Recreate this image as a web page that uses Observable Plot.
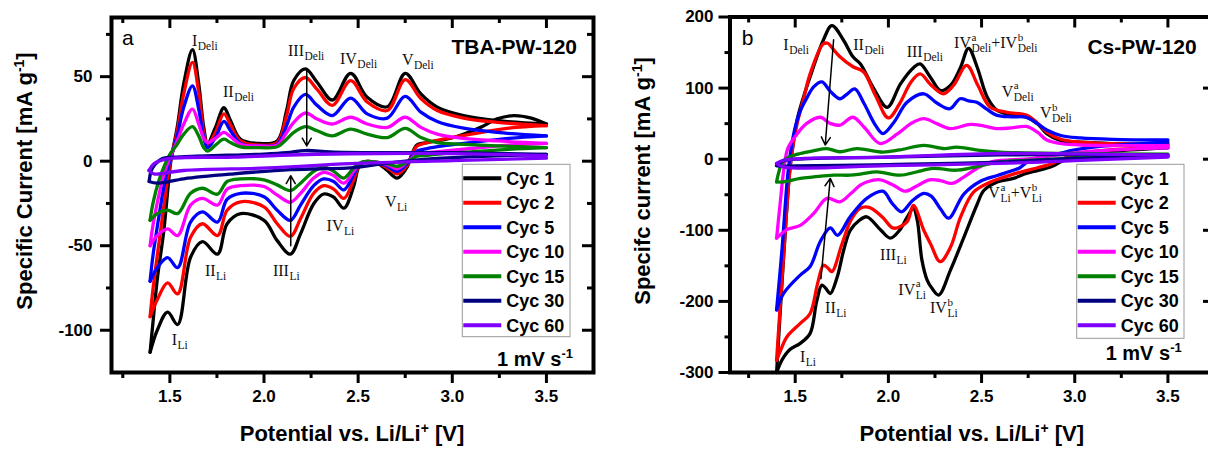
<!DOCTYPE html>
<html><head><meta charset="utf-8">
<script src="https://cdn.jsdelivr.net/npm/d3@7"></script>
<script src="https://cdn.jsdelivr.net/npm/@observablehq/plot@0.6"></script>
<style>
html,body{margin:0;padding:0;background:#fff;overflow:hidden;}
#wrap{position:relative;width:1208px;height:450px;overflow:hidden;background:#fff;}
#pa,#pb{position:absolute;top:0;height:450px;}
#pa{left:0;width:604px;} #pb{left:618px;width:620px;}
#wrap svg{max-width:none !important;}
</style></head><body><div id="wrap"><div id="pa"></div><div id="pb"></div></div>
<script>
// ---------- shared ----------
const cycles = ["Cyc 1","Cyc 2","Cyc 5","Cyc 10","Cyc 15","Cyc 30","Cyc 60"];
const colors = ["#000000","#ff0000","#0000ff","#ff00ff","#008000","#000080","#7f00ff"];

// ---------- panel a: TBA-PW-120  [potential V, current mA/g] ----------
const a_c1_an = [[1.395,-113],[1.408,-98],[1.433,-70],[1.468,-41],[1.494,-11],[1.505,0],[1.539,20],[1.574,46],[1.62,66],[1.653,46],[1.68,20],[1.70,10.5],[1.742,20],[1.787,31.6],[1.822,24],[1.875,13],[1.98,10.5],[2.07,12],[2.12,30],[2.158,47.7],[2.22,54.6],[2.282,46.7],[2.363,36.2],[2.46,52],[2.548,37.8],[2.655,32.2],[2.75,52],[2.833,39.8],[2.92,32],[3.06,27],[3.238,24],[3.5,22]];
const a_c1_ca = [[3.5,22],[3.42,25.5],[3.326,27],[3.238,25],[3.15,20],[3.008,14],[2.866,11],[2.813,9.7],[2.786,4.4],[2.76,-3.5],[2.707,-10],[2.655,-5.5],[2.6,-1.2],[2.53,-0.6],[2.503,-3.5],[2.476,-15],[2.424,-27.8],[2.37,-21.3],[2.317,-19.4],[2.264,-25.2],[2.194,-43],[2.14,-55],[2.07,-47],[2.0,-35],[1.876,-31],[1.804,-37],[1.753,-55],[1.673,-47.6],[1.61,-56.8],[1.541,-96.6],[1.488,-89.3],[1.433,-100],[1.395,-113]];
const a_c2_an = [[1.395,-92],[1.41,-76],[1.44,-50],[1.47,-25],[1.5,-2],[1.539,18],[1.574,40],[1.62,58.4],[1.653,41],[1.68,17],[1.70,9.5],[1.742,17],[1.787,28],[1.822,21.5],[1.875,12],[1.98,9.5],[2.07,11],[2.12,27],[2.158,43],[2.22,49.5],[2.282,42.5],[2.363,33],[2.46,47.6],[2.548,35],[2.655,30],[2.75,48.2],[2.833,37],[2.92,30],[3.06,25.5],[3.238,23],[3.5,21]];
const a_c2_ca = [[3.5,21],[3.3,19.5],[3.1,16],[2.95,13],[2.866,11],[2.813,9],[2.786,4],[2.76,-2.5],[2.707,-7.5],[2.655,-4],[2.6,-1],[2.53,-0.5],[2.503,-3],[2.476,-11],[2.424,-22],[2.37,-16.5],[2.317,-14.5],[2.264,-19],[2.194,-34],[2.14,-44.5],[2.07,-37],[2.0,-27],[1.876,-24],[1.804,-29],[1.753,-44],[1.673,-37],[1.61,-45],[1.541,-78.5],[1.488,-72],[1.433,-82],[1.395,-92]];
const a_c5_an = [[1.395,-71],[1.41,-56],[1.44,-34],[1.47,-14],[1.5,0],[1.539,15],[1.574,32],[1.62,44.6],[1.653,31],[1.68,14],[1.70,8],[1.742,14],[1.787,23.5],[1.822,18],[1.875,10.5],[1.98,9],[2.07,10],[2.12,21],[2.158,32],[2.22,39.5],[2.282,33],[2.363,27],[2.46,37.3],[2.548,28],[2.655,25.5],[2.75,38.3],[2.833,29],[2.92,23.5],[3.06,19.5],[3.238,17],[3.5,15]];
const a_c5_ca = [[3.5,15],[3.3,13.5],[3.1,11],[2.95,9],[2.866,7.5],[2.813,6],[2.786,3],[2.76,-1.5],[2.707,-6],[2.655,-3],[2.6,-0.8],[2.53,-0.5],[2.503,-2.5],[2.476,-8],[2.424,-17],[2.37,-12],[2.317,-10.5],[2.264,-14.5],[2.194,-26],[2.14,-35],[2.07,-29],[2.0,-21],[1.876,-19],[1.804,-22.5],[1.753,-36],[1.673,-30],[1.61,-36],[1.541,-63],[1.488,-57],[1.433,-63],[1.395,-71]];
const a_c10_an = [[1.395,-50],[1.41,-38],[1.44,-21],[1.47,-7],[1.5,2],[1.539,12],[1.574,22],[1.62,30.8],[1.653,22],[1.68,13.5],[1.70,11],[1.742,13.5],[1.787,17],[1.822,14.5],[1.875,10],[1.98,9],[2.07,9.5],[2.12,17],[2.158,23],[2.22,28.5],[2.282,25],[2.363,22],[2.46,26],[2.548,22],[2.655,20],[2.75,26],[2.833,20],[2.92,16],[3.06,13.5],[3.238,12],[3.5,10.5]];
const a_c10_ca = [[3.5,10.5],[3.3,9.5],[3.1,7.5],[2.95,6],[2.866,5],[2.813,4],[2.786,2],[2.76,-0.5],[2.707,-4.5],[2.655,-2],[2.6,-0.5],[2.53,-0.3],[2.503,-2],[2.476,-6],[2.424,-13],[2.37,-8.5],[2.317,-6.6],[2.264,-10],[2.194,-19],[2.14,-24.3],[2.07,-20],[2.0,-15],[1.876,-14.5],[1.804,-16.5],[1.753,-26],[1.673,-22],[1.61,-26],[1.541,-44],[1.488,-40],[1.433,-44],[1.395,-50]];
const a_c15_an = [[1.395,-35],[1.41,-25],[1.44,-12],[1.47,-3],[1.5,4],[1.539,10],[1.574,16],[1.62,20.4],[1.653,15],[1.68,8],[1.70,6],[1.742,9.5],[1.787,13],[1.822,11],[1.875,8.5],[1.98,8],[2.07,8.5],[2.12,13],[2.158,17],[2.22,20.4],[2.282,18],[2.363,15],[2.46,19],[2.548,16],[2.655,14],[2.75,19.4],[2.833,14],[2.92,11],[3.06,10],[3.238,9],[3.5,8]];
const a_c15_ca = [[3.5,8],[3.3,7],[3.1,5.5],[2.95,4.5],[2.866,3.5],[2.813,3],[2.786,1.5],[2.76,-0.5],[2.707,-3],[2.655,-1.5],[2.6,-0.5],[2.53,-0.3],[2.503,-1.5],[2.476,-4],[2.424,-10],[2.37,-6],[2.317,-3.5],[2.264,-6],[2.194,-13],[2.14,-17.4],[2.07,-14],[2.0,-11],[1.876,-10.5],[1.804,-12],[1.753,-19.5],[1.673,-16],[1.61,-19],[1.541,-31],[1.488,-29],[1.433,-31],[1.395,-35]];
const a_c30_an = [[1.39,-12],[1.40,-6],[1.42,-2],[1.46,1.5],[1.55,2.5],[1.8,3.5],[2.0,4.2],[2.12,5],[2.22,6.3],[2.35,5.5],[2.6,5],[3.0,5],[3.5,4]];
const a_c30_ca = [[3.5,4],[3.2,3],[2.9,1.5],[2.7,-0.5],[2.46,-4],[2.3,-4.5],[2.14,-5],[1.84,-7.5],[1.574,-10.4],[1.433,-13],[1.39,-12]];
const a_c60_an = [[1.389,-5.5],[1.415,-1.5],[1.486,1.4],[1.84,2.4],[2.09,3.5],[2.46,4.4],[3.0,4.5],[3.5,3.3]];
const a_c60_ca = [[3.5,1.8],[3.0,0.3],[2.46,-1.5],[2.02,-4],[1.574,-5.5],[1.415,-7.5],[1.389,-5.5]];

// ---------- panel b: Cs-PW-120 ----------
const b_c1_an = [[1.4,-300],[1.43,-170],[1.466,-30],[1.48,5],[1.51,55],[1.545,88],[1.58,116],[1.65,167],[1.697,188],[1.76,167],[1.81,144],[1.85,134],[1.92,100],[1.994,73],[2.065,106],[2.136,129],[2.17,134],[2.226,115],[2.28,96.6],[2.333,103.7],[2.387,129],[2.43,156],[2.477,129],[2.53,87.5],[2.584,68.5],[2.635,64],[2.74,59],[2.8,50],[2.85,36],[2.925,26],[3.03,24],[3.2,22],[3.5,21]];
const b_c1_ca = [[3.5,16],[3.3,13],[3.1,9],[3.0,4],[2.93,-3],[2.88,-10],[2.8,-16],[2.74,-20],[2.67,-27],[2.584,-32],[2.512,-44],[2.477,-63],[2.405,-110],[2.333,-156],[2.27,-191],[2.235,-182],[2.208,-170],[2.18,-142],[2.155,-86],[2.134,-69],[2.1,-82],[2.06,-100],[2.01,-111],[1.96,-100],[1.884,-81],[1.84,-87],[1.795,-100],[1.76,-128],[1.725,-166],[1.688,-189],[1.665,-182],[1.643,-177],[1.615,-200],[1.58,-245],[1.527,-259],[1.47,-268],[1.43,-282],[1.4,-300]];
const b_c2_an = [[1.4,-283],[1.43,-165],[1.466,-30],[1.48,5],[1.51,50],[1.545,85],[1.58,120],[1.65,162],[1.675,163],[1.7,156],[1.74,144],[1.81,130],[1.866,123],[1.93,90],[2.0,58],[2.06,78],[2.12,108],[2.17,120],[2.23,104],[2.295,92],[2.35,104],[2.42,132],[2.48,104],[2.545,73.5],[2.635,66],[2.74,62],[2.8,51],[2.85,38],[2.925,28],[3.03,24],[3.2,22],[3.5,20]];
const b_c2_ca = [[3.5,18],[3.3,15],[3.1,11],[3.0,6],[2.93,0],[2.88,-6],[2.8,-12],[2.74,-16],[2.67,-21],[2.6,-27],[2.548,-32],[2.458,-46],[2.387,-81.6],[2.333,-124],[2.278,-144],[2.226,-119],[2.19,-100],[2.134,-65],[2.1,-88],[2.027,-97],[1.97,-82],[1.9,-68],[1.849,-69],[1.8,-85],[1.75,-120],[1.697,-158],[1.675,-153],[1.652,-149],[1.62,-175],[1.58,-217],[1.527,-231],[1.455,-250],[1.42,-270],[1.4,-283]];
const b_c5_an = [[1.4,-212],[1.43,-124],[1.457,-30],[1.475,10],[1.5,45],[1.528,68.5],[1.564,87],[1.6,102],[1.643,108.6],[1.69,95],[1.74,85],[1.78,92],[1.82,99],[1.87,78],[1.93,48],[1.97,36],[2.03,52],[2.1,80],[2.19,92],[2.26,79],[2.33,71],[2.385,85],[2.43,82],[2.474,80],[2.53,70],[2.58,62],[2.66,59.5],[2.74,59],[2.8,50],[2.85,41],[2.93,33],[3.03,30],[3.2,28],[3.5,27]];
const b_c5_ca = [[3.5,24],[3.3,21],[3.1,17],[3.0,13],[2.9,7],[2.8,1],[2.745,-4],[2.706,-12],[2.67,-15.5],[2.584,-23],[2.494,-31],[2.405,-49],[2.323,-83],[2.28,-70],[2.23,-52],[2.19,-48],[2.13,-58],[2.07,-74],[2.02,-62],[1.97,-45],[1.884,-55],[1.795,-81],[1.727,-107],[1.688,-96.5],[1.634,-116],[1.58,-151],[1.527,-163],[1.437,-189],[1.4,-212]];
const b_c10_an = [[1.4,-111],[1.42,-60],[1.44,-12],[1.46,15],[1.5,32],[1.56,50],[1.634,59],[1.69,50],[1.74,48],[1.81,59],[1.87,45],[1.956,22],[2.05,36],[2.12,50],[2.19,57],[2.26,50],[2.33,43],[2.44,49],[2.51,47],[2.58,43],[2.66,44],[2.74,46],[2.8,38],[2.85,27],[2.93,22],[3.03,20],[3.5,19]];
const b_c10_ca = [[3.5,16],[3.2,13],[3.0,9],[2.85,4],[2.75,0.5],[2.65,-1],[2.55,-4],[2.474,-13],[2.4,-26],[2.34,-34],[2.28,-30],[2.22,-29],[2.15,-38],[2.09,-45],[2.03,-37],[1.956,-29],[1.884,-32],[1.849,-36.5],[1.8,-48],[1.74,-60],[1.67,-55],[1.6,-76],[1.527,-93],[1.455,-99],[1.4,-111]];
const b_c15_an = [[1.4,-32],[1.41,-20],[1.43,-5],[1.46,2],[1.527,8],[1.6,12],[1.67,15],[1.74,10.5],[1.83,15],[1.97,10],[2.06,13],[2.19,19.5],[2.3,15],[2.367,17],[2.49,12.5],[2.6,10],[3.0,8],[3.5,7]];
const b_c15_ca = [[3.5,5],[3.0,2],[2.8,-1],[2.6,-3.8],[2.45,-12],[2.367,-15.5],[2.24,-13],[2.15,-18],[2.063,-22.5],[1.938,-17.8],[1.85,-21],[1.795,-22.5],[1.706,-22.5],[1.6,-25],[1.527,-27],[1.437,-32],[1.4,-32]];
const b_c30_an = [[1.4,-9],[1.43,-3],[1.5,0],[2.0,3],[2.6,6],[3.0,6.5],[3.5,6]];
const b_c30_ca = [[3.5,4],[3.0,1],[2.6,-4],[2.0,-7.5],[1.5,-9.5],[1.43,-10],[1.4,-9]];
const b_c60_an = [[1.4,-6],[1.44,-1.4],[2.0,3],[2.6,8],[3.0,7.5],[3.5,5.6]];
const b_c60_ca = [[3.5,3],[3.0,-2],[2.6,-6],[2.0,-9],[1.44,-11],[1.4,-6]];

// ---------- ticks ----------
const xMajor = [1.5, 2.0, 2.5, 3.0, 3.5];
const xMinor = [1.25, 1.75, 2.25, 2.75, 3.25];
const yMajorA = [-100, -50, 0, 50];
const yMinorA = [-75, -25, 25, 75];
const yMajorB = [-300, -200, -100, 0, 100, 200];
const yMinorB = [-250, -150, -50, 50, 150];

// ---------- arrows & peak labels ----------
const arrowsA = [{x1:2.227,y1:54,x2:2.227,y2:9},{x1:2.142,y1:-50,x2:2.142,y2:-8.6}];
const arrowsB = [{x1:1.706,y1:168,x2:1.661,y2:20},{x1:1.638,y1:-168,x2:1.688,y2:-27}];
const labelsA = [
 {E:1.62,I:67.6,parts:[{t:"I",sub:"Deli"}]},
 {E:1.785,I:37.7,parts:[{t:"II",sub:"Deli"}]},
 {E:2.13,I:61.7,parts:[{t:"III",sub:"Deli"}]},
 {E:2.406,I:57.2,parts:[{t:"IV",sub:"Deli"}]},
 {E:2.735,I:56.6,parts:[{t:"V",sub:"Deli"}]},
 {E:1.512,I:-109.3,parts:[{t:"I",sub:"Li"}]},
 {E:1.689,I:-68.2,parts:[{t:"II",sub:"Li"}]},
 {E:2.05,I:-68.2,parts:[{t:"III",sub:"Li"}]},
 {E:2.335,I:-41.6,parts:[{t:"IV",sub:"Li"}]},
 {E:2.645,I:-27.1,parts:[{t:"V",sub:"Li"}]}
];
const labelsB = [
 {E:1.439,I:152.9,parts:[{t:"I",sub:"Deli"}]},
 {E:1.814,I:152.9,parts:[{t:"II",sub:"Deli"}]},
 {E:2.101,I:143.7,parts:[{t:"III",sub:"Deli"}]},
 {E:2.355,I:155.3,parts:[{t:"IV",sup:"a",sub:"Deli"},{t:"+IV",sup:"b",sub:"Deli"}]},
 {E:2.611,I:87.2,parts:[{t:"V",sup:"a",sub:"Deli"}]},
 {E:2.816,I:56.8,parts:[{t:"V",sup:"b",sub:"Deli"}]},
 {E:2.539,I:-55.7,parts:[{t:"V",sup:"a",sub:"Li"},{t:"+V",sup:"b",sub:"Li"}]},
 {E:1.958,I:-142.5,parts:[{t:"III",sub:"Li"}]},
 {E:2.056,I:-191.7,parts:[{t:"IV",sup:"a",sub:"Li"}]},
 {E:2.226,I:-217.4,parts:[{t:"IV",sup:"b",sub:"Li"}]},
 {E:1.663,I:-217.4,parts:[{t:"II",sub:"Li"}]},
 {E:1.528,I:-285.5,parts:[{t:"I",sub:"Li"}]}
];

const SANS = "'Liberation Sans', Arial, Helvetica, sans-serif";
const SERIF = "'Liberation Serif', 'Times New Roman', serif";

function buildRows(series) {
  const rows = [];
  series.forEach(([an, ca], k) => {
    an.forEach(([E, I]) => rows.push({E, I, k, z: k + "an", c: colors[k]}));
    ca.forEach(([E, I]) => rows.push({E, I, k, z: k + "ca", c: colors[k]}));
  });
  return rows;
}

function supText(sel, parts, supSize) {
  let shifted = false;
  parts.forEach(p => {
    if (typeof p === "string") {
      const t = sel.append("tspan").text(p);
      if (shifted) { t.attr("dy", 8); shifted = false; }
    } else {
      sel.append("tspan").attr("dy", -8).attr("font-size", supSize).text(p.sup);
      shifted = true;
    }
  });
}

function panel(o) {
  const H = 450;
  const FH = H - o.mt - o.mb, FW = o.width - o.ml - o.mr;
  const rows = buildRows(o.series);
  const chart = Plot.plot({
    width: o.width, height: H,
    marginLeft: o.ml, marginRight: o.mr, marginTop: o.mt, marginBottom: o.mb,
    x: {domain: o.xDomain, axis: null},
    y: {domain: o.yDomain, axis: null},
    style: {fontFamily: SANS, background: "white", color: "black", overflow: "visible", maxWidth: "none"},
    marks: [
      Plot.line(rows, {x: "E", y: "I", z: "z", stroke: "c", strokeWidth: 3.3, curve: "catmull-rom", strokeLinejoin: "round"}),
      Plot.arrow(o.arrows, {x1: "x1", y1: "y1", x2: "x2", y2: "y2", stroke: "black", strokeWidth: 1.5, headLength: 9}),
      Plot.tickX(xMajor, {x: d => d, insetTop: FH - 11, dy: 11, stroke: "black", strokeWidth: 3}),
      Plot.tickX(xMinor, {x: d => d, insetTop: FH - 6, dy: 6, stroke: "black", strokeWidth: 3}),
      Plot.tickX(xMajor, {x: d => d, insetBottom: FH - 11, stroke: "black", strokeWidth: 3}),
      Plot.tickX(xMinor, {x: d => d, insetBottom: FH - 6, stroke: "black", strokeWidth: 3}),
      Plot.tickY(o.yMajor, {y: d => d, insetRight: FW - 11, dx: -11, stroke: "black", strokeWidth: 3}),
      Plot.tickY(o.yMinor, {y: d => d, insetRight: FW - 5, dx: -5, stroke: "black", strokeWidth: 3}),
      Plot.tickY(o.yMajor, {y: d => d, insetLeft: FW - 11, stroke: "black", strokeWidth: 3}),
      Plot.tickY(o.yMinor, {y: d => d, insetLeft: FW - 6, stroke: "black", strokeWidth: 3}),
      Plot.frame({stroke: "black", strokeWidth: 4}),
      Plot.text(xMajor, {x: d => d, frameAnchor: "bottom", dy: 29, text: d => d.toFixed(1), fontSize: 17, fontWeight: "bold", fill: "black"}),
      Plot.text(o.yMajor, {y: d => d, frameAnchor: "left", dx: o.yLabelPad, textAnchor: "end", text: d => String(d), fontSize: 17, fontWeight: "bold", fill: "black"})
    ]
  });
  document.getElementById(o.el).appendChild(chart);
  const svg = d3.select(chart);
  const sx = chart.scale("x"), sy = chart.scale("y");
  const ov = svg.append("g").attr("text-anchor", "start").attr("font-family", SANS).attr("fill", "black");

  // axis titles
  const xt = ov.append("text").attr("x", o.ml + FW / 2).attr("y", 441)
    .attr("text-anchor", "middle").attr("font-size", 22).attr("font-weight", "bold");
  supText(xt, ["Potential vs. Li/Li", {sup: "+"}, " [V]"], 14);
  const yt = ov.append("text").attr("transform", `translate(${o.yTitleX},181) rotate(-90)`)
    .attr("text-anchor", "middle").attr("font-size", 22).attr("font-weight", "bold");
  supText(yt, [o.yTitle, {sup: "-1"}, "]"], 14);

  ov.append("text").attr("x", o.letterX).attr("y", 45).attr("font-size", 21).text(o.letter);
  ov.append("text").attr("x", o.nameX).attr("y", 54).attr("text-anchor", "end")
    .attr("font-size", 21).attr("font-weight", "bold").text(o.name);
  const sr = ov.append("text").attr("x", o.rateX).attr("y", o.rateY).attr("text-anchor", "end")
    .attr("font-size", 20).attr("font-weight", "bold");
  supText(sr, ["1 mV s", {sup: "-1"}], 13);

  // legend
  const lg = ov.append("g");
  lg.append("rect").attr("x", o.leg.x).attr("y", o.leg.y).attr("width", o.leg.w).attr("height", o.leg.h)
    .attr("fill", "white").attr("stroke", "#9a9a9a").attr("stroke-width", 1);
  cycles.forEach((c, i) => {
    const yy = o.leg.y + 14 + i * 24.5;
    lg.append("line").attr("x1", o.leg.x + 1).attr("x2", o.leg.x + 39).attr("y1", yy).attr("y2", yy)
      .attr("stroke", colors[i]).attr("stroke-width", 4);
    lg.append("text").attr("x", o.leg.x + 44).attr("y", yy + 6.3).attr("font-size", 18)
      .attr("font-weight", "bold").text(c);
  });

  // peak labels (serif with sub/superscripts)
  o.labels.forEach(L => {
    let cx = sx.apply(L.E);
    const y = sy.apply(L.I);
    const g = ov.append("g").attr("font-family", SERIF).attr("fill", "#111").attr("text-anchor", "start");
    L.parts.forEach(p => {
      const b = g.append("text").attr("x", cx).attr("y", y).attr("font-size", 16).text(p.t);
      cx += b.node().getComputedTextLength();
      let w = 0;
      if (p.sup) {
        const s = g.append("text").attr("x", cx + 0.5).attr("y", y - 7.5).attr("font-size", 11).text(p.sup);
        w = Math.max(w, s.node().getComputedTextLength() + 0.5);
      }
      if (p.sub) {
        const s = g.append("text").attr("x", cx + 0.5).attr("y", y + 4).attr("font-size", 11.5).text(p.sub);
        w = Math.max(w, s.node().getComputedTextLength() + 0.5);
      }
      cx += w;
    });
  });
}

panel({
  el: "pa", width: 604, ml: 111, mr: 11, mt: 17, mb: 78,
  xDomain: [1.19, 3.75], yDomain: [-125, 85],
  series: [[a_c1_an,a_c1_ca],[a_c2_an,a_c2_ca],[a_c5_an,a_c5_ca],[a_c10_an,a_c10_ca],[a_c15_an,a_c15_ca],[a_c30_an,a_c30_ca],[a_c60_an,a_c60_ca]],
  yMajor: yMajorA, yMinor: yMinorA, yLabelPad: -19,
  arrows: arrowsA, labels: labelsA,
  yTitle: "Specific Current [mA g", yTitleX: 32,
  letter: "a", letterX: 122, name: "TBA-PW-120", nameX: 577,
  rateX: 573, rateY: 366,
  leg: {x: 462.3, y: 164.3, w: 107.7, h: 172.4}
});

panel({
  el: "pb", width: 620, ml: 111.5, mr: 24, mt: 16.5, mb: 78,
  xDomain: [1.15, 3.75], yDomain: [-300, 200],
  series: [[b_c1_an,b_c1_ca],[b_c2_an,b_c2_ca],[b_c5_an,b_c5_ca],[b_c10_an,b_c10_ca],[b_c15_an,b_c15_ca],[b_c30_an,b_c30_ca],[b_c60_an,b_c60_ca]],
  yMajor: yMajorB, yMinor: yMinorB, yLabelPad: -16.5,
  arrows: arrowsB, labels: labelsB,
  yTitle: "Specifc current [mA g", yTitleX: 32,
  letter: "b", letterX: 123.7, name: "Cs-PW-120", nameX: 578.7,
  rateX: 563.7, rateY: 360,
  leg: {x: 458.7, y: 164.3, w: 107.3, h: 174}
});
</script></body></html>
